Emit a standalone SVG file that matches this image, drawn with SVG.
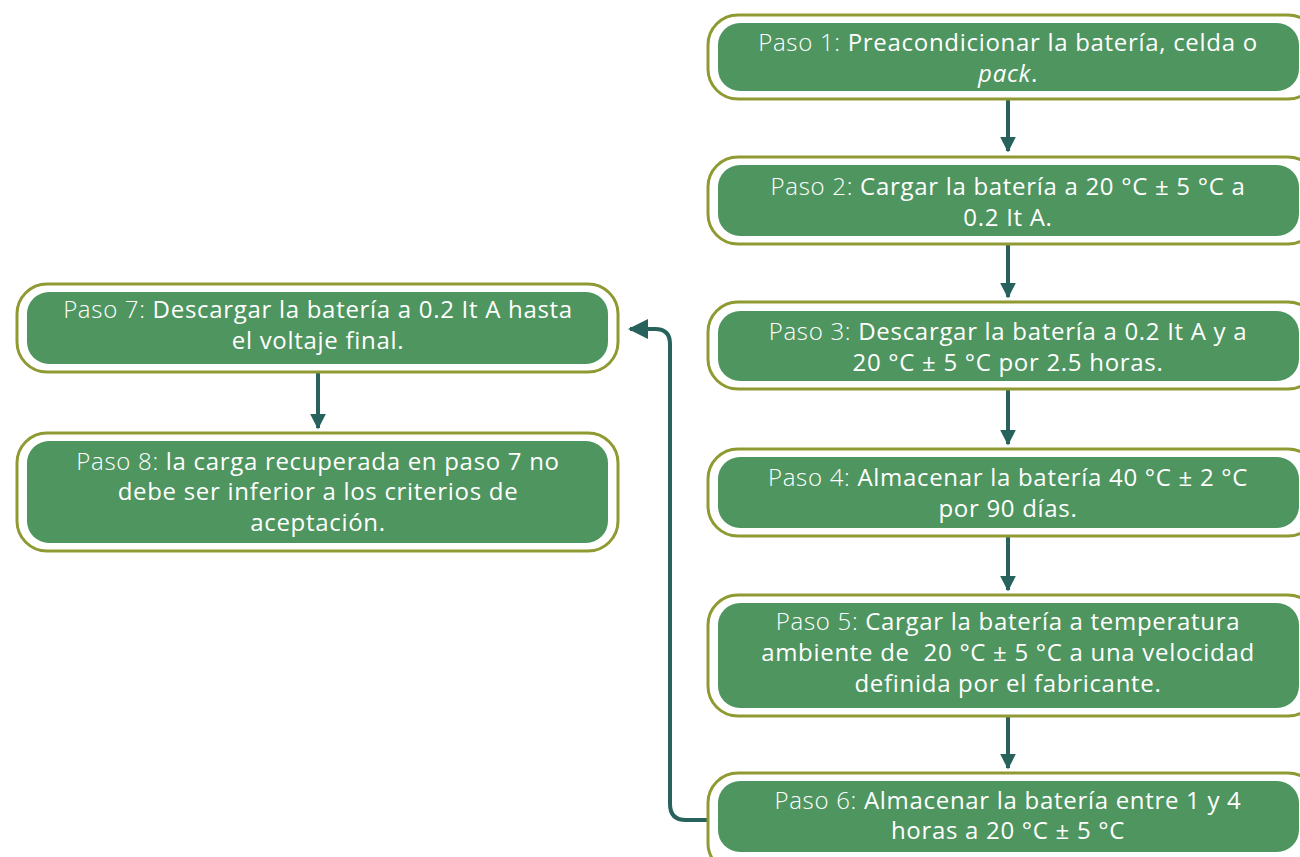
<svg xmlns="http://www.w3.org/2000/svg" width="1300" height="857" viewBox="0 0 1300 857">
<style>
.outer{fill:#fff;stroke:#8f9a32;stroke-width:3}
.inner{fill:#4f9560}
.t{font-family:"Open Sans","Liberation Sans",sans-serif;font-size:24px;letter-spacing:0.7px;fill:#fff;text-anchor:middle}
.p{font-weight:300}
.conn{fill:none;stroke:#27625d;stroke-width:4}
</style>
<defs>
<marker id="ah" viewBox="0 0 10 10" refX="9" refY="5" markerWidth="4" markerHeight="4" orient="auto" markerUnits="strokeWidth">
<path d="M0,0 L10,5 L0,10 Z" fill="#27625d"/>
</marker>
<marker id="ah2" viewBox="0 0 10 10" refX="9" refY="5" markerWidth="5" markerHeight="5" orient="auto" markerUnits="strokeWidth">
<path d="M0,0 L10,5 L0,10 Z" fill="#27625d"/>
</marker>
</defs>
<g id="connectors">
<path class="conn" d="M1008,100 V151" marker-end="url(#ah)"/>
<path class="conn" d="M1008,245 V297" marker-end="url(#ah)"/>
<path class="conn" d="M1008,390 V444" marker-end="url(#ah)"/>
<path class="conn" d="M1008,537 V590" marker-end="url(#ah)"/>
<path class="conn" d="M1008,717 V768" marker-end="url(#ah)"/>
<path class="conn" d="M318,373 V428" marker-end="url(#ah)"/>
<path class="conn" d="M708,820 H686 Q670,820 670,804 V344 Q670,329 655,329 H630" marker-end="url(#ah2)"/>
</g>
<g id="n1">
<rect class="outer" x="708" y="15" width="610" height="84" rx="30"/>
<rect class="inner" x="718" y="23" width="581" height="68" rx="22"/>
<text class="t" x="1008" y="51"><tspan class="p">Paso 1:</tspan> Preacondicionar la batería, celda o</text>
<text class="t" x="1008" y="82" font-style="italic">pack<tspan font-style="normal">.</tspan></text>
</g>
<g id="n2">
<rect class="outer" x="708" y="157" width="610" height="87" rx="30"/>
<rect class="inner" x="718" y="165" width="581" height="71" rx="22"/>
<text class="t" x="1008" y="195"><tspan class="p">Paso 2:</tspan> Cargar la batería a 20 °C ± 5 °C a</text>
<text class="t" x="1008" y="226">0.2 It A.</text>
</g>
<g id="n3">
<rect class="outer" x="708" y="302" width="610" height="87" rx="30"/>
<rect class="inner" x="718" y="311" width="581" height="70" rx="22"/>
<text class="t" x="1008" y="340"><tspan class="p">Paso 3:</tspan> Descargar la batería a 0.2 It A y a</text>
<text class="t" x="1008" y="371">20 °C ± 5 °C por 2.5 horas.</text>
</g>
<g id="n4">
<rect class="outer" x="708" y="449" width="610" height="87" rx="30"/>
<rect class="inner" x="718" y="457" width="581" height="71" rx="22"/>
<text class="t" x="1008" y="486"><tspan class="p">Paso 4:</tspan> Almacenar la batería 40 °C ± 2 °C</text>
<text class="t" x="1008" y="517">por 90 días.</text>
</g>
<g id="n5">
<rect class="outer" x="708" y="595" width="610" height="121" rx="30"/>
<rect class="inner" x="718" y="603" width="581" height="105" rx="22"/>
<text class="t" x="1008" y="630"><tspan class="p">Paso 5:</tspan> Cargar la batería a temperatura</text>
<text class="t" x="1008" y="661" xml:space="preserve">ambiente de  20 °C ± 5 °C a una velocidad</text>
<text class="t" x="1008" y="692">definida por el fabricante.</text>
</g>
<g id="n6">
<rect class="outer" x="708" y="773" width="610" height="100" rx="30"/>
<rect class="inner" x="718" y="781" width="581" height="71" rx="22"/>
<text class="t" x="1008" y="809"><tspan class="p">Paso 6:</tspan> Almacenar la batería entre 1 y 4</text>
<text class="t" x="1008" y="839">horas a 20 °C ± 5 °C</text>
</g>
<g id="n7">
<rect class="outer" x="17" y="284" width="601" height="88" rx="30"/>
<rect class="inner" x="27" y="292" width="581" height="72" rx="22"/>
<text class="t" x="318" y="318"><tspan class="p">Paso 7:</tspan> Descargar la batería a 0.2 It A hasta</text>
<text class="t" x="318" y="349">el voltaje final.</text>
</g>
<g id="n8">
<rect class="outer" x="17" y="433" width="601" height="118" rx="30"/>
<rect class="inner" x="27" y="441" width="581" height="102" rx="22"/>
<text class="t" x="318" y="470"><tspan class="p">Paso 8:</tspan> la carga recuperada en paso 7 no</text>
<text class="t" x="318" y="500">debe ser inferior a los criterios de</text>
<text class="t" x="318" y="531">aceptación.</text>
</g>
</svg>
